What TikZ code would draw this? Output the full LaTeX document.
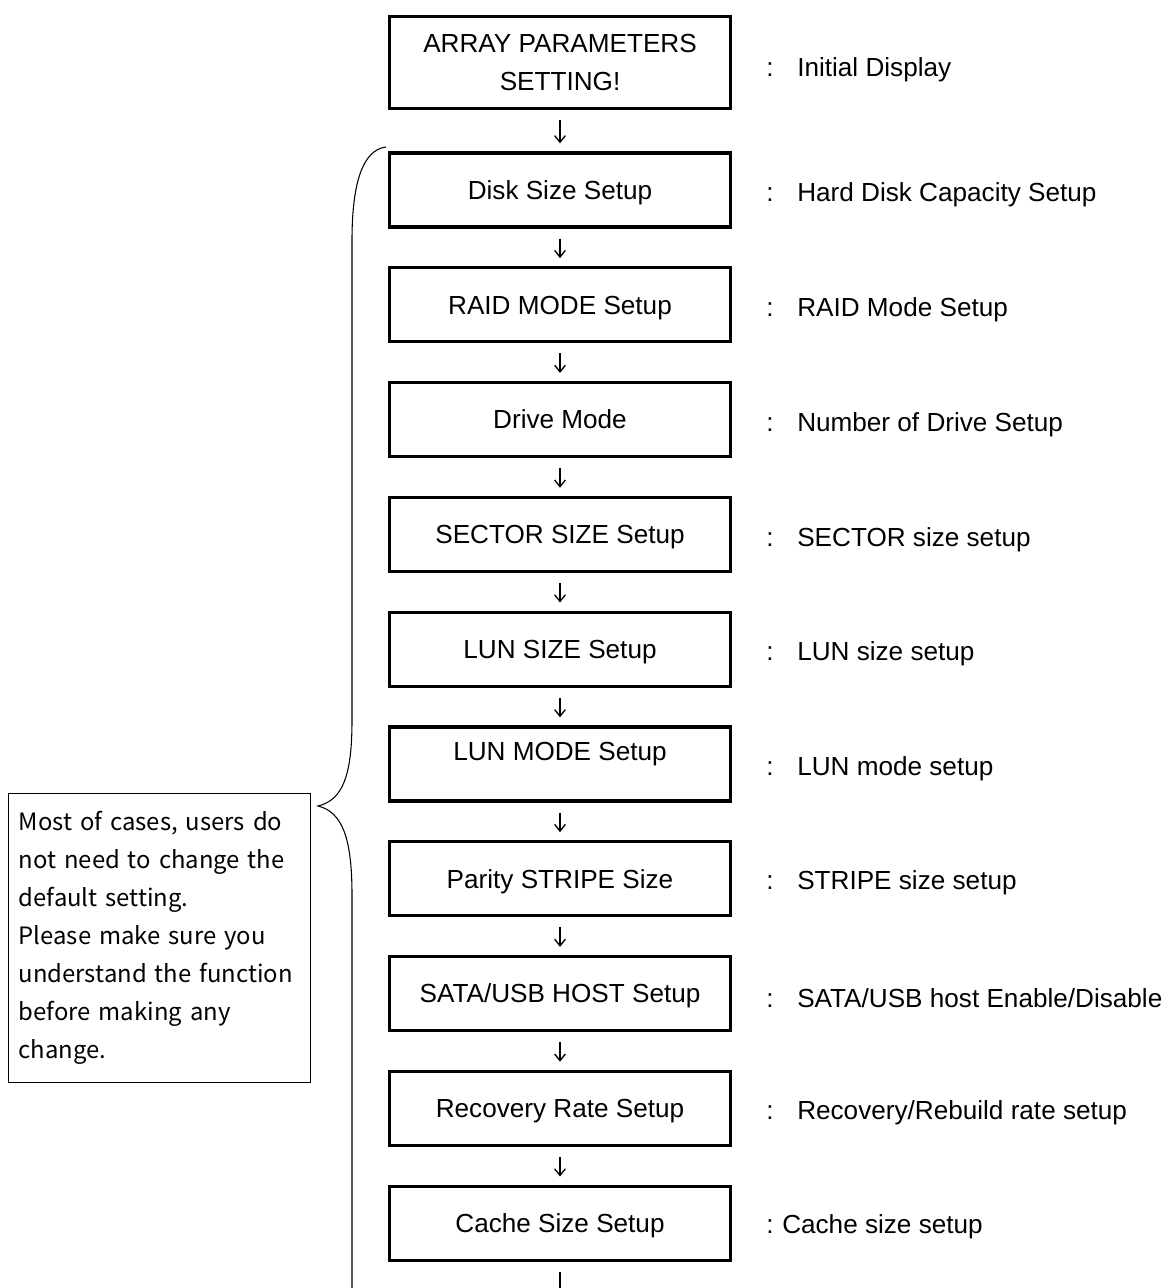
\documentclass[tikz,border=0pt]{standalone}
\usepackage{fontspec}
\setmainfont{Liberation Sans}
\newfontfamily\notefont{Noto Sans CJK JP}
\usetikzlibrary{arrows.meta}
\tikzset{
  basebox/.style={draw, line width=2.5pt, minimum width=255.75pt, minimum height=55.5pt, inner sep=0pt, align=center, font=\fontsize{19.6pt}{28.5pt}\selectfont},
  stepbox/.style={basebox, text height=14pt, text depth=0pt},
  desc/.style={anchor=west, inner sep=0pt, yshift=-2.2pt, font=\fontsize{19.6pt}{28.5pt}\selectfont},
  arr/.style={line width=1pt, -{Straight Barb[length=5pt,width=8pt]}, shorten <=7.5pt, shorten >=6pt},
  notebox/.style={draw, line width=1.1pt, anchor=north west, minimum width=226.5pt, minimum height=216.75pt, text width=211.5pt, inner xsep=7.5pt, inner ysep=0pt, align=left, font=\notefont\fontsize{17.9pt}{28.5pt}\selectfont},
  brace/.style={line width=0.8pt}
}
\newcommand{\colsep}[1]{\makebox[#1][l]{:}}
\begin{document}
\begin{tikzpicture}[x=0.75pt,y=-0.75pt]
\useasboundingbox (0,0) rectangle (1174,1288);
\node[basebox, minimum height=69pt] (b0) at (560,62.5) {ARRAY PARAMETERS\\SETTING!};
\node[stepbox] (b1) at (560,190) {Disk Size Setup};
\node[stepbox] (b2) at (560,304.8) {RAID MODE Setup};
\node[stepbox] (b3) at (560,419.6) {Drive Mode};
\node[stepbox] (b4) at (560,534.4) {SECTOR SIZE Setup};
\node[stepbox] (b5) at (560,649.2) {LUN SIZE Setup};
\node[basebox] (b6) at (560,764) {LUN MODE Setup\\[-9pt]\mbox{}};
\node[stepbox] (b7) at (560,878.8) {Parity STRIPE Size};
\node[stepbox] (b8) at (560,993.6) {SATA/USB HOST Setup};
\node[stepbox] (b9) at (560,1108.4) {Recovery Rate Setup};
\node[stepbox] (b10) at (560,1223.2) {Cache Size Setup};
\coordinate (bend) at (560,1330);

\node[desc] (l0) at (766,67) {\colsep{23.25pt}Initial Display};
\node[desc] (l1) at (766,192) {\colsep{23.25pt}Hard Disk Capacity Setup};
\node[desc] (l2) at (766,307) {\colsep{23.25pt}RAID Mode Setup};
\node[desc] (l3) at (766,422) {\colsep{23.25pt}Number of Drive Setup};
\node[desc] (l4) at (766,537) {\colsep{23.25pt}SECTOR size setup};
\node[desc] (l5) at (766,651) {\colsep{23.25pt}LUN size setup};
\node[desc] (l6) at (766,766) {\colsep{23.25pt}LUN mode setup};
\node[desc] (l7) at (766,880) {\colsep{23.25pt}STRIPE size setup};
\node[desc] (l8) at (766,995) {\colsep{23.25pt}SATA/USB host Enable/Disable};
\node[desc] (l9) at (766,1110) {\colsep{23.25pt}Recovery/Rebuild rate setup};
\node[desc] (l10) at (766,1224) {\colsep{12pt}Cache size setup};

\foreach \a/\b in {b0/b1,b1/b2,b2/b3,b3/b4,b4/b5,b5/b6,b6/b7,b7/b8,b8/b9,b9/b10,b10/bend}
  \draw[arr] (\a) -- (\b);

\node[notebox] (note) at (8,793) {Most of cases, users do\\not need to change the\\default setting.\\Please make sure you\\understand the function\\before making any\\change.};

\draw[brace] (386,147) .. controls (362,150) and (352,185) .. (352,240) -- (352,720)
  .. controls (352,775) and (343,800) .. (318,806)
  .. controls (343,812) and (352,840) .. (352,895) -- (352,1300);
\end{tikzpicture}
\end{document}
